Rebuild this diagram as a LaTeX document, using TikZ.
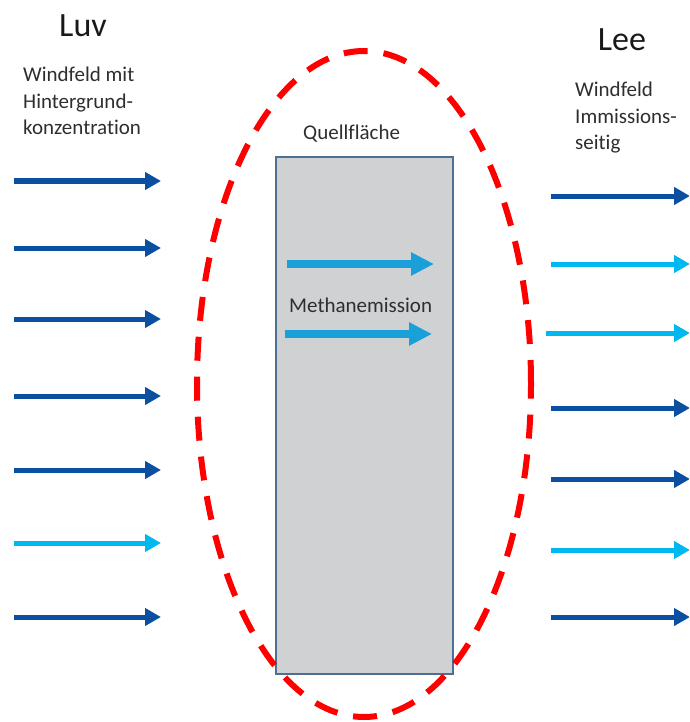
\documentclass[tikz,border=0pt]{standalone}
\usepackage{fontspec}
\setmainfont{Carlito}[Ligatures={NoCommon}]
\usetikzlibrary{arrows.meta}
\definecolor{darkb}{HTML}{0B4FA0}
\definecolor{lightb}{HTML}{00B8F0}
\definecolor{midb}{HTML}{1AA0D8}
\definecolor{boxfill}{HTML}{D0D1D3}
\definecolor{boxline}{HTML}{4C6F94}
\definecolor{txt}{HTML}{2E2E2E}
\tikzset{
  wind/.style={line width=5pt,-{Triangle[length=16pt,width=17pt]}},
  dk/.style={wind,draw=darkb,fill=darkb},
  lt/.style={wind,draw=lightb,fill=lightb},
  emis/.style={line width=8pt,draw=midb,-{Triangle[length=23pt,width=22pt,fill=midb]}},
  bigtxt/.style={font=\fontsize{34}{40}\selectfont,text=black!90,inner sep=0pt},
  smalltxt/.style={font=\fontsize{21}{26.5}\selectfont,text=txt,inner sep=0pt,align=left},
}
\begin{document}
\begin{tikzpicture}[x=1pt,y=-1pt]
\useasboundingbox (0,0) rectangle (689,722);
\clip (0,0) rectangle (689,722);
% source area
\node[draw=boxline,line width=2.5pt,fill=boxfill,minimum width=177pt,minimum height=517pt,inner sep=0pt] (box) at (364.5,415.5) {};
% titles
\node[bigtxt,anchor=base] (luv) at (83,37) {Luv};
\node[bigtxt,anchor=base] (lee) at (622,51) {Lee};
\node[smalltxt,anchor=base west] (ltxt) at (23,135) {Windfeld mit\\Hintergrund-\\konzentration};
\node[smalltxt,anchor=base west] (rtxt) at (575,150) {Windfeld\\Immissions-\\seitig};
\node[smalltxt,anchor=base west] (quell) at (303,140) {Quellfläche};
\node[smalltxt,anchor=base west] (meth) at (289,312) {Methanemission};
% emission arrows
\coordinate (e1a) at (287,264); \coordinate (e1b) at (434,264);
\coordinate (e2a) at (285,334); \coordinate (e2b) at (432,334);
\draw[emis] (e1a) -- (e1b);
\draw[emis] (e2a) -- (e2b);
% left arrows
\foreach \y/\s [count=\i] in {181/dk,248/dk,319/dk,396/dk,470/dk,543/lt,617/dk}{
  \coordinate (la\i) at (14,\y);
  \coordinate (lb\i) at (161,\y);
  \draw[\s] (la\i) -- (lb\i);
}
% right arrows
\foreach \x/\y/\s [count=\i] in {551/196/dk,551/264/lt,546/333/lt,551/408/dk,551/479/dk,551/550/lt,551/617/dk}{
  \coordinate (ra\i) at (\x,\y);
  \coordinate (rb\i) at (690,\y);
  \draw[\s] (ra\i) -- (rb\i);
}
% dashed ellipse
\coordinate (ec) at (364,384);
\draw[red,line width=6pt,dash pattern=on 24pt off 16pt] (ec) ellipse [x radius=167pt,y radius=333pt];
\end{tikzpicture}
\end{document}
